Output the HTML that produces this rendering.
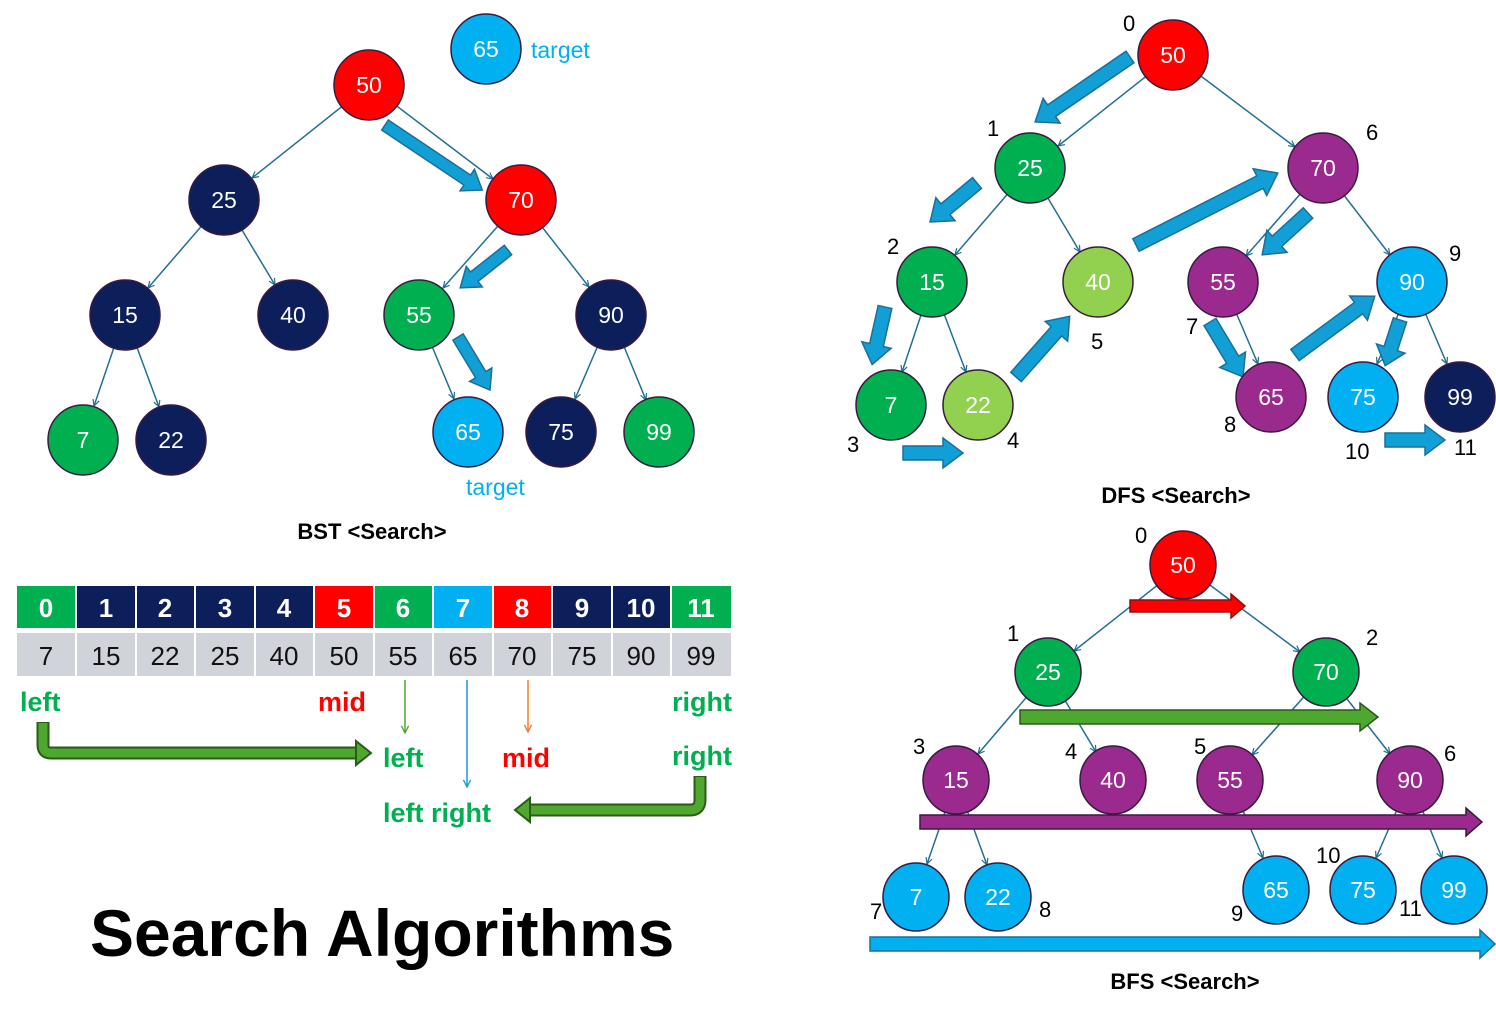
<!DOCTYPE html>
<html><head><meta charset="utf-8"><style>
html,body{margin:0;padding:0;background:#fff}
svg{display:block}
text{font-family:"Liberation Sans","DejaVu Sans",sans-serif}
.n text{fill:#fff;font-size:23px;text-anchor:middle;dominant-baseline:central}
.lb{font-size:22px;fill:#000}
.e{stroke:#236f91;stroke-width:1.5;fill:none;marker-end:url(#m)}
.ba{fill:#129fd6;stroke:#1b6f98;stroke-width:1.5}
</style></head><body>
<svg width="1496" height="1011" viewBox="0 0 1496 1011" xmlns="http://www.w3.org/2000/svg">
<defs>
<marker id="m" viewBox="0 0 10 10" refX="9" refY="5" markerWidth="8" markerHeight="8" orient="auto" markerUnits="userSpaceOnUse">
<polyline points="1,1 9,5 1,9" fill="none" stroke="#236f91" stroke-width="1.5"/></marker>
<marker id="mg" viewBox="0 0 10 10" refX="9" refY="5" markerWidth="9" markerHeight="9" orient="auto" markerUnits="userSpaceOnUse"><polyline points="1,1 9,5 1,9" fill="none" stroke="#4ea72e" stroke-width="1.5"/></marker>
<marker id="mb" viewBox="0 0 10 10" refX="9" refY="5" markerWidth="9" markerHeight="9" orient="auto" markerUnits="userSpaceOnUse"><polyline points="1,1 9,5 1,9" fill="none" stroke="#1a9ad6" stroke-width="1.5"/></marker>
<marker id="mo" viewBox="0 0 10 10" refX="9" refY="5" markerWidth="9" markerHeight="9" orient="auto" markerUnits="userSpaceOnUse"><polyline points="1,1 9,5 1,9" fill="none" stroke="#ed7d31" stroke-width="1.5"/></marker>
</defs>

<!-- ============ BST ============ -->
<line class="e" x1="369" y1="85" x2="252" y2="178"/>
<line class="e" x1="369" y1="85" x2="493" y2="179"/>
<line class="e" x1="224" y1="200" x2="148" y2="288"/>
<line class="e" x1="224" y1="200" x2="275" y2="285"/>
<line class="e" x1="521" y1="200" x2="443" y2="288"/>
<line class="e" x1="521" y1="200" x2="589" y2="287"/>
<line class="e" x1="125" y1="315" x2="94" y2="406"/>
<line class="e" x1="125" y1="315" x2="159" y2="407"/>
<line class="e" x1="419" y1="315" x2="454" y2="399"/>
<line class="e" x1="611" y1="315" x2="575" y2="399"/>
<line class="e" x1="611" y1="315" x2="646" y2="400"/>
<g transform="translate(385,125) rotate(33.8)"><polygon class="ba" points="0,-6 99,-6 99,-13 117,0 99,13 99,6 0,6"/></g>
<g transform="translate(508,250) rotate(141.6)"><polygon class="ba" points="0,-6 43,-6 43,-13 61,0 43,13 43,6 0,6"/></g>
<g transform="translate(458,337) rotate(58.9)"><polygon class="ba" points="0,-6 44,-6 44,-13 62,0 44,13 44,6 0,6"/></g>
<g class="n" stroke="#3a1a40" stroke-width="1.5">
<circle cx="486" cy="49" r="35" fill="#00b0f0"/><text x="486" y="49" stroke="none">65</text>
<circle cx="369" cy="85" r="35" fill="#ff0000"/><text x="369" y="85" stroke="none">50</text>
<circle cx="224" cy="200" r="35" fill="#0c1f5a"/><text x="224" y="200" stroke="none">25</text>
<circle cx="521" cy="200" r="35" fill="#ff0000"/><text x="521" y="200" stroke="none">70</text>
<circle cx="125" cy="315" r="35" fill="#0c1f5a"/><text x="125" y="315" stroke="none">15</text>
<circle cx="293" cy="315" r="35" fill="#0c1f5a"/><text x="293" y="315" stroke="none">40</text>
<circle cx="419" cy="315" r="35" fill="#00b050"/><text x="419" y="315" stroke="none">55</text>
<circle cx="611" cy="315" r="35" fill="#0c1f5a"/><text x="611" y="315" stroke="none">90</text>
<circle cx="83" cy="440" r="35" fill="#00b050"/><text x="83" y="440" stroke="none">7</text>
<circle cx="171" cy="440" r="35" fill="#0c1f5a"/><text x="171" y="440" stroke="none">22</text>
<circle cx="468" cy="432" r="35" fill="#00b0f0"/><text x="468" y="432" stroke="none">65</text>
<circle cx="561" cy="432" r="35" fill="#0c1f5a"/><text x="561" y="432" stroke="none">75</text>
<circle cx="659" cy="432" r="35" fill="#00b050"/><text x="659" y="432" stroke="none">99</text>
</g>
<text x="531" y="58" font-size="23" fill="#00b0f0">target</text>
<text x="466" y="495" font-size="23" fill="#00b0f0">target</text>
<text x="372" y="539" font-size="22" font-weight="bold" text-anchor="middle">BST &lt;Search&gt;</text>

<!-- ============ Array ============ -->
<g font-size="26" text-anchor="middle">
<rect x="17" y="586" width="59" height="42" fill="#00b050"/>
<rect x="76" y="586" width="60" height="42" fill="#0c1f5a"/>
<rect x="136" y="586" width="59" height="42" fill="#0c1f5a"/>
<rect x="195" y="586" width="60" height="42" fill="#0c1f5a"/>
<rect x="255" y="586" width="59" height="42" fill="#0c1f5a"/>
<rect x="314" y="586" width="60" height="42" fill="#ff0000"/>
<rect x="374" y="586" width="59" height="42" fill="#00b050"/>
<rect x="433" y="586" width="60" height="42" fill="#00b0f0"/>
<rect x="493" y="586" width="59" height="42" fill="#ff0000"/>
<rect x="552" y="586" width="60" height="42" fill="#0c1f5a"/>
<rect x="612" y="586" width="59" height="42" fill="#0c1f5a"/>
<rect x="671" y="586" width="60" height="42" fill="#00b050"/>
<rect x="17" y="633" width="714" height="43" fill="#d0d3d9"/>
<g stroke="#fff" stroke-width="2">
<line x1="76" y1="586" x2="76" y2="676"/><line x1="136" y1="586" x2="136" y2="676"/><line x1="195" y1="586" x2="195" y2="676"/><line x1="255" y1="586" x2="255" y2="676"/><line x1="314" y1="586" x2="314" y2="676"/><line x1="374" y1="586" x2="374" y2="676"/><line x1="433" y1="586" x2="433" y2="676"/><line x1="493" y1="586" x2="493" y2="676"/><line x1="552" y1="586" x2="552" y2="676"/><line x1="612" y1="586" x2="612" y2="676"/><line x1="671" y1="586" x2="671" y2="676"/>
</g>
<g fill="#fff" font-weight="bold">
<text x="46" y="617">0</text><text x="106" y="617">1</text><text x="165" y="617">2</text><text x="225" y="617">3</text><text x="284" y="617">4</text><text x="344" y="617">5</text><text x="403" y="617">6</text><text x="463" y="617">7</text><text x="522" y="617">8</text><text x="582" y="617">9</text><text x="641" y="617">10</text><text x="701" y="617">11</text>
</g>
<g fill="#111">
<text x="46" y="665">7</text><text x="106" y="665">15</text><text x="165" y="665">22</text><text x="225" y="665">25</text><text x="284" y="665">40</text><text x="344" y="665">50</text><text x="403" y="665">55</text><text x="463" y="665">65</text><text x="522" y="665">70</text><text x="582" y="665">75</text><text x="641" y="665">90</text><text x="701" y="665">99</text>
</g>
</g>
<g font-size="27" font-weight="bold">
<text x="20" y="711" fill="#00b050">left</text>
<text x="318" y="711" fill="#ff0000">mid</text>
<text x="672" y="711" fill="#00b050">right</text>
<text x="383" y="767" fill="#00b050">left</text>
<text x="502" y="767" fill="#ff0000">mid</text>
<text x="672" y="765" fill="#00b050">right</text>
<text x="383" y="822" fill="#00b050">left right</text>
</g>
<line x1="405" y1="680" x2="405" y2="733" stroke="#4ea72e" stroke-width="1.5" marker-end="url(#mg)"/>
<line x1="467" y1="680" x2="467" y2="787" stroke="#1a9ad6" stroke-width="1.5" marker-end="url(#mb)"/>
<line x1="528" y1="680" x2="528" y2="732" stroke="#ed7d31" stroke-width="1.5" marker-end="url(#mo)"/>
<!-- bent arrows -->
<path d="M43,722 V745 Q43,753 51,753 H358" fill="none" stroke="#2c5a18" stroke-width="13"/>
<path d="M43,723 V745 Q43,753 51,753 H358" fill="none" stroke="#4ea72e" stroke-width="9"/>
<polygon points="356,741 371,753 356,765" fill="#4ea72e" stroke="#2c5a18" stroke-width="2"/>
<path d="M700,776 V800 Q700,810 690,810 H528" fill="none" stroke="#2c5a18" stroke-width="13"/>
<path d="M700,777 V800 Q700,810 690,810 H528" fill="none" stroke="#4ea72e" stroke-width="9"/>
<polygon points="530,798 515,810 530,822" fill="#4ea72e" stroke="#2c5a18" stroke-width="2"/>

<text x="90" y="956" font-size="66" font-weight="bold" fill="#000">Search Algorithms</text>

<!-- ============ DFS ============ -->
<line class="e" x1="1173" y1="55" x2="1058" y2="146"/>
<line class="e" x1="1173" y1="55" x2="1295" y2="147"/>
<line class="e" x1="1030" y1="168" x2="955" y2="255"/>
<line class="e" x1="1030" y1="168" x2="1080" y2="252"/>
<line class="e" x1="1323" y1="168" x2="1246" y2="256"/>
<line class="e" x1="1323" y1="168" x2="1390" y2="255"/>
<line class="e" x1="932" y1="282" x2="902" y2="372"/>
<line class="e" x1="932" y1="282" x2="966" y2="372"/>
<line class="e" x1="1223" y1="282" x2="1258" y2="364"/>
<line class="e" x1="1412" y1="282" x2="1377" y2="364"/>
<line class="e" x1="1412" y1="282" x2="1447" y2="364"/>
<g transform="translate(1130,57) rotate(145.6)"><polygon class="ba" points="0,-7 95,-7 95,-15 115,0 95,15 95,7 0,7"/></g>
<g transform="translate(977,183) rotate(140.3)"><polygon class="ba" points="0,-7 41,-7 41,-15 61,0 41,15 41,7 0,7"/></g>
<g transform="translate(885,307) rotate(102.6)"><polygon class="ba" points="0,-7 39,-7 39,-15 59,0 39,15 39,7 0,7"/></g>
<g transform="translate(903,453) rotate(0)"><polygon class="ba" points="0,-7 40,-7 40,-15 60,0 40,15 40,7 0,7"/></g>
<g transform="translate(1016,377) rotate(-48.5)"><polygon class="ba" points="0,-7 61,-7 61,-15 81,0 61,15 61,7 0,7"/></g>
<g transform="translate(1136,245) rotate(-26.9)"><polygon class="ba" points="0,-7 139,-7 139,-15 159,0 139,15 139,7 0,7"/></g>
<g transform="translate(1308,213) rotate(137.6)"><polygon class="ba" points="0,-7 42,-7 42,-15 62,0 42,15 42,7 0,7"/></g>
<g transform="translate(1210,322) rotate(59)"><polygon class="ba" points="0,-7 44,-7 44,-15 64,0 44,15 44,7 0,7"/></g>
<g transform="translate(1295,355) rotate(-36.4)"><polygon class="ba" points="0,-7 79,-7 79,-15 99,0 79,15 79,7 0,7"/></g>
<g transform="translate(1400,320) rotate(108)"><polygon class="ba" points="0,-7 30,-7 30,-15 48,0 30,15 30,7 0,7"/></g>
<g transform="translate(1385,440) rotate(0)"><polygon class="ba" points="0,-7 40,-7 40,-15 60,0 40,15 40,7 0,7"/></g>
<g class="n" stroke="#3a1a40" stroke-width="1.5">
<circle cx="1173" cy="55" r="35" fill="#ff0000"/><text x="1173" y="55" stroke="none">50</text>
<circle cx="1030" cy="168" r="35" fill="#00b050"/><text x="1030" y="168" stroke="none">25</text>
<circle cx="1323" cy="168" r="35" fill="#9b2a8f"/><text x="1323" y="168" stroke="none">70</text>
<circle cx="932" cy="282" r="35" fill="#00b050"/><text x="932" y="282" stroke="none">15</text>
<circle cx="1098" cy="282" r="35" fill="#92d050"/><text x="1098" y="282" stroke="none">40</text>
<circle cx="1223" cy="282" r="35" fill="#9b2a8f"/><text x="1223" y="282" stroke="none">55</text>
<circle cx="1412" cy="282" r="35" fill="#00b0f0"/><text x="1412" y="282" stroke="none">90</text>
<circle cx="891" cy="405" r="35" fill="#00b050"/><text x="891" y="405" stroke="none">7</text>
<circle cx="978" cy="405" r="35" fill="#92d050"/><text x="978" y="405" stroke="none">22</text>
<circle cx="1271" cy="397" r="35" fill="#9b2a8f"/><text x="1271" y="397" stroke="none">65</text>
<circle cx="1363" cy="397" r="35" fill="#00b0f0"/><text x="1363" y="397" stroke="none">75</text>
<circle cx="1460" cy="397" r="35" fill="#0c1f5a"/><text x="1460" y="397" stroke="none">99</text>
</g>
<g class="lb">
<text x="1123" y="31">0</text><text x="987" y="136">1</text><text x="1366" y="140">6</text><text x="887" y="254">2</text><text x="1091" y="349">5</text><text x="1449" y="261">9</text><text x="1186" y="334">7</text><text x="847" y="452">3</text><text x="1007" y="448">4</text><text x="1224" y="432">8</text><text x="1345" y="459">10</text><text x="1454" y="455">11</text>
</g>
<text x="1176" y="503" font-size="22" font-weight="bold" text-anchor="middle">DFS &lt;Search&gt;</text>

<!-- ============ BFS ============ -->
<line class="e" x1="1183" y1="565" x2="1074" y2="651"/>
<line class="e" x1="1183" y1="565" x2="1300" y2="652"/>
<line class="e" x1="1048" y1="672" x2="978" y2="754"/>
<line class="e" x1="1048" y1="672" x2="1096" y2="752"/>
<line class="e" x1="1326" y1="672" x2="1252" y2="755"/>
<line class="e" x1="1326" y1="672" x2="1390" y2="754"/>
<line class="e" x1="956" y1="780" x2="927" y2="864"/>
<line class="e" x1="956" y1="780" x2="987" y2="865"/>
<line class="e" x1="1230" y1="780" x2="1263" y2="858"/>
<line class="e" x1="1410" y1="780" x2="1376" y2="858"/>
<line class="e" x1="1410" y1="780" x2="1442" y2="858"/>
<g class="n" stroke="#3a1a40" stroke-width="1.5">
<ellipse cx="1183" cy="565" rx="33" ry="34" fill="#ff0000"/><text x="1183" y="565" stroke="none">50</text>
<ellipse cx="1048" cy="672" rx="33" ry="34" fill="#00b050"/><text x="1048" y="672" stroke="none">25</text>
<ellipse cx="1326" cy="672" rx="33" ry="34" fill="#00b050"/><text x="1326" y="672" stroke="none">70</text>
<ellipse cx="956" cy="780" rx="33" ry="34" fill="#9b2a8f"/><text x="956" y="780" stroke="none">15</text>
<ellipse cx="1113" cy="780" rx="33" ry="34" fill="#9b2a8f"/><text x="1113" y="780" stroke="none">40</text>
<ellipse cx="1230" cy="780" rx="33" ry="34" fill="#9b2a8f"/><text x="1230" y="780" stroke="none">55</text>
<ellipse cx="1410" cy="780" rx="33" ry="34" fill="#9b2a8f"/><text x="1410" y="780" stroke="none">90</text>
<ellipse cx="916" cy="897" rx="33" ry="34" fill="#00b0f0"/><text x="916" y="897" stroke="none">7</text>
<ellipse cx="998" cy="897" rx="33" ry="34" fill="#00b0f0"/><text x="998" y="897" stroke="none">22</text>
<ellipse cx="1276" cy="890" rx="33" ry="34" fill="#00b0f0"/><text x="1276" y="890" stroke="none">65</text>
<ellipse cx="1363" cy="890" rx="33" ry="34" fill="#00b0f0"/><text x="1363" y="890" stroke="none">75</text>
<ellipse cx="1454" cy="890" rx="33" ry="34" fill="#00b0f0"/><text x="1454" y="890" stroke="none">99</text>
</g>
<polygon points="1130,600 1231,600 1231,594 1245,606 1231,618 1231,612 1130,612" fill="#ff0000" stroke="#8a1010" stroke-width="1.5"/>
<polygon points="1020,710 1360,710 1360,703 1378,717 1360,731 1360,724 1020,724" fill="#4ea72e" stroke="#2c5a18" stroke-width="1.5"/>
<polygon points="920,815 1466,815 1466,808 1482,822 1466,836 1466,829 920,829" fill="#9b2a8f" stroke="#3a1a40" stroke-width="1.5"/>
<polygon points="870,937 1480,937 1480,930 1495,944 1480,958 1480,951 870,951" fill="#00b0f0" stroke="#1b6f98" stroke-width="1.5"/>
<g class="lb">
<text x="1135" y="543">0</text><text x="1007" y="641">1</text><text x="1366" y="645">2</text><text x="913" y="754">3</text><text x="1065" y="759">4</text><text x="1194" y="754">5</text><text x="1444" y="761">6</text><text x="870" y="919">7</text><text x="1039" y="917">8</text><text x="1231" y="921">9</text><text x="1316" y="863">10</text><text x="1399" y="916">11</text>
</g>
<text x="1185" y="989" font-size="22" font-weight="bold" text-anchor="middle">BFS &lt;Search&gt;</text>
</svg>
</body></html>
